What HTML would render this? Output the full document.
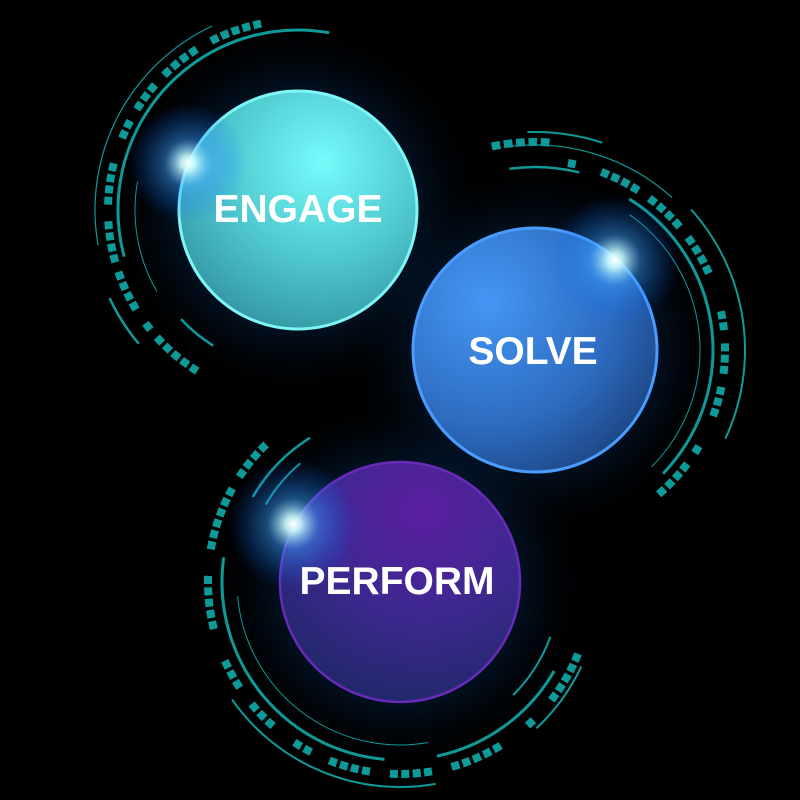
<!DOCTYPE html>
<html><head><meta charset="utf-8"><style>
html,body{margin:0;padding:0;background:#000;width:800px;height:800px;overflow:hidden}
svg{display:block}
text{font-family:"Liberation Sans",sans-serif;font-weight:bold;fill:#fff;text-anchor:middle}
</style></head><body>
<svg width="800" height="800" viewBox="0 0 800 800" xmlns="http://www.w3.org/2000/svg">
<defs>
<radialGradient id="gE" cx="0.6" cy="0.3" r="0.8">
<stop offset="0" stop-color="#76fbfb"/><stop offset="0.5" stop-color="#4fc9cf"/><stop offset="1" stop-color="#2f8e9c"/>
</radialGradient>
<radialGradient id="gS" cx="0.3" cy="0.3" r="0.85">
<stop offset="0" stop-color="#4596f5"/><stop offset="0.6" stop-color="#2d6cc0"/><stop offset="1" stop-color="#1a3f7a"/>
</radialGradient>
<radialGradient id="gP" cx="0.6" cy="0.2" r="0.85">
<stop offset="0" stop-color="#5a1ea0"/><stop offset="0.5" stop-color="#3e2890"/><stop offset="1" stop-color="#1f2868"/>
</radialGradient>
<radialGradient id="halo">
<stop offset="0" stop-color="#0a5aa8" stop-opacity="0.8"/><stop offset="0.6" stop-color="#062a55" stop-opacity="0.45"/><stop offset="1" stop-color="#000" stop-opacity="0"/>
</radialGradient>
<radialGradient id="spark">
<stop offset="0" stop-color="#fff"/><stop offset="0.12" stop-color="#cff" stop-opacity="0.9"/><stop offset="0.4" stop-color="#3aa0ff" stop-opacity="0.45"/><stop offset="1" stop-color="#0060ff" stop-opacity="0"/>
</radialGradient>
</defs>
<rect width="800" height="800" fill="#000"/>
<circle cx="298" cy="210" r="190" fill="url(#halo)"/>
<circle cx="535" cy="350" r="190" fill="url(#halo)"/>
<circle cx="400" cy="582" r="190" fill="url(#halo)"/>

<g fill="none" stroke="#0f9a9a">
<!-- ENGAGE arcs -->
<circle cx="298" cy="210" r="190" pathLength="360" stroke-width="8" transform="rotate(122 298 210)" stroke-dasharray="2.4 1 2.4 1 2.4 1 2.4 1 2.4 3 2.4 5 2.4 1 2.4 1 2.4 1 2.4 3 2.4 1 2.4 1 2.4 1 2.4 5 2.4 1 2.4 1 2.4 1 2.4 8 2.4 1 2.4 4 2.4 1 2.4 1 2.4 4 2.4 1 2.4 1 2.4 1 2.4 5 2.4 1 2.4 1 2.4 1 2.4 1 2.4 400"/>
<circle cx="298" cy="210" r="180" pathLength="360" stroke-width="3" transform="rotate(165 298 210)" stroke-dasharray="115 400"/>
<circle cx="298" cy="210" r="203" pathLength="360" stroke-width="1.2" transform="rotate(170 298 210)" stroke-dasharray="75 400"/>
<circle cx="298" cy="210" r="163" pathLength="360" stroke-width="1" transform="rotate(150 298 210)" stroke-dasharray="40 400"/>
<circle cx="298" cy="210" r="160" pathLength="360" stroke-width="2.5" transform="rotate(122 298 210)" stroke-dasharray="15 400"/>
<circle cx="298" cy="210" r="208" pathLength="360" stroke-width="2.5" transform="rotate(140 298 210)" stroke-dasharray="15 400"/>
<!-- SOLVE arcs -->
<circle cx="535" cy="350" r="190" pathLength="360" stroke-width="8" transform="rotate(280 535 350)" stroke-dasharray="2.4 8 2.4 1 2.4 1 2.4 1 2.4 4 2.4 1 2.4 1 2.4 1 2.4 4 2.4 1 2.4 1 2.4 1 2.4 12 2.4 1 2.4 4 2.4 1 2.4 1 2.4 4 2.4 1 2.4 1 2.4 10 2.4 4 2.4 1 2.4 1 2.4 1 2.4 400"/>
<circle cx="535" cy="350" r="208" pathLength="360" stroke-width="8" transform="rotate(258 535 350)" stroke-dasharray="2.4 1 2.4 1 2.4 1 2.4 1 2.4 400"/>
<circle cx="535" cy="350" r="178" pathLength="360" stroke-width="3" transform="rotate(302 535 350)" stroke-dasharray="102 400"/>
<circle cx="535" cy="350" r="205" pathLength="360" stroke-width="1.2" transform="rotate(262 535 350)" stroke-dasharray="50 400"/>
<circle cx="535" cy="350" r="210" pathLength="360" stroke-width="2" transform="rotate(318 535 350)" stroke-dasharray="67 400"/>
<circle cx="535" cy="350" r="165" pathLength="360" stroke-width="1" transform="rotate(305 535 350)" stroke-dasharray="100 400"/>
<circle cx="535" cy="350" r="183" pathLength="360" stroke-width="2.5" transform="rotate(262 535 350)" stroke-dasharray="22 400"/>
<circle cx="535" cy="350" r="218" pathLength="360" stroke-width="2" transform="rotate(268 535 350)" stroke-dasharray="20 400"/>
<!-- PERFORM arcs -->
<circle cx="400" cy="582" r="192" pathLength="360" stroke-width="8" transform="rotate(22 400 582)" stroke-dasharray="2.4 1 2.4 1 2.4 1 2.4 1 2.4 8 2.4 10 2.4 1 2.4 1 2.4 1 2.4 1 2.4 6 2.4 1 2.4 1 2.4 1 2.4 6 2.4 1 2.4 1 2.4 1 2.4 6 2.4 1 2.4 8 2.4 1 2.4 1 2.4 6 2.4 1 2.4 1 2.4 10 2.4 1 2.4 1 2.4 1 2.4 1 2.4 8 2.4 1 2.4 1 2.4 1 2.4 1 2.4 1 2.4 4 2.4 1 2.4 1 2.4 1 2.4 400"/>
<circle cx="400" cy="582" r="178" pathLength="360" stroke-width="3" transform="rotate(95 400 582)" stroke-dasharray="93 400"/>
<circle cx="400" cy="582" r="178" pathLength="360" stroke-width="3" transform="rotate(30 400 582)" stroke-dasharray="48 400"/>
<circle cx="400" cy="582" r="163" pathLength="360" stroke-width="1" transform="rotate(80 400 582)" stroke-dasharray="95 400"/>
<circle cx="400" cy="582" r="205" pathLength="360" stroke-width="2" transform="rotate(80 400 582)" stroke-dasharray="65 400"/>
<circle cx="400" cy="582" r="200" pathLength="360" stroke-width="2" transform="rotate(25 400 582)" stroke-dasharray="22 400"/>
<circle cx="400" cy="582" r="160" pathLength="360" stroke-width="2" transform="rotate(20 400 582)" stroke-dasharray="25 400"/>
<circle cx="400" cy="582" r="170" pathLength="360" stroke-width="2.5" transform="rotate(210 400 582)" stroke-dasharray="28 400"/>
<circle cx="400" cy="582" r="155" pathLength="360" stroke-width="2" transform="rotate(210 400 582)" stroke-dasharray="20 400"/>
</g>

<circle cx="298" cy="210" r="119" fill="url(#gE)" stroke="#7ff6f6" stroke-width="3"/>
<circle cx="535" cy="350" r="122" fill="url(#gS)" stroke="#4b9cff" stroke-width="3"/>
<circle cx="400" cy="582" r="120" fill="url(#gP)" stroke="#6a2ab8" stroke-width="2.5"/>

<circle cx="188" cy="163" r="60" fill="url(#spark)"/>
<circle cx="615" cy="260" r="65" fill="url(#spark)"/>
<circle cx="293" cy="524" r="65" fill="url(#spark)"/>

<text x="298" y="222" font-size="39">ENGAGE</text>
<text x="533" y="364" font-size="39">SOLVE</text>
<text x="397" y="594" font-size="39">PERFORM</text>
</svg>
</body></html>
